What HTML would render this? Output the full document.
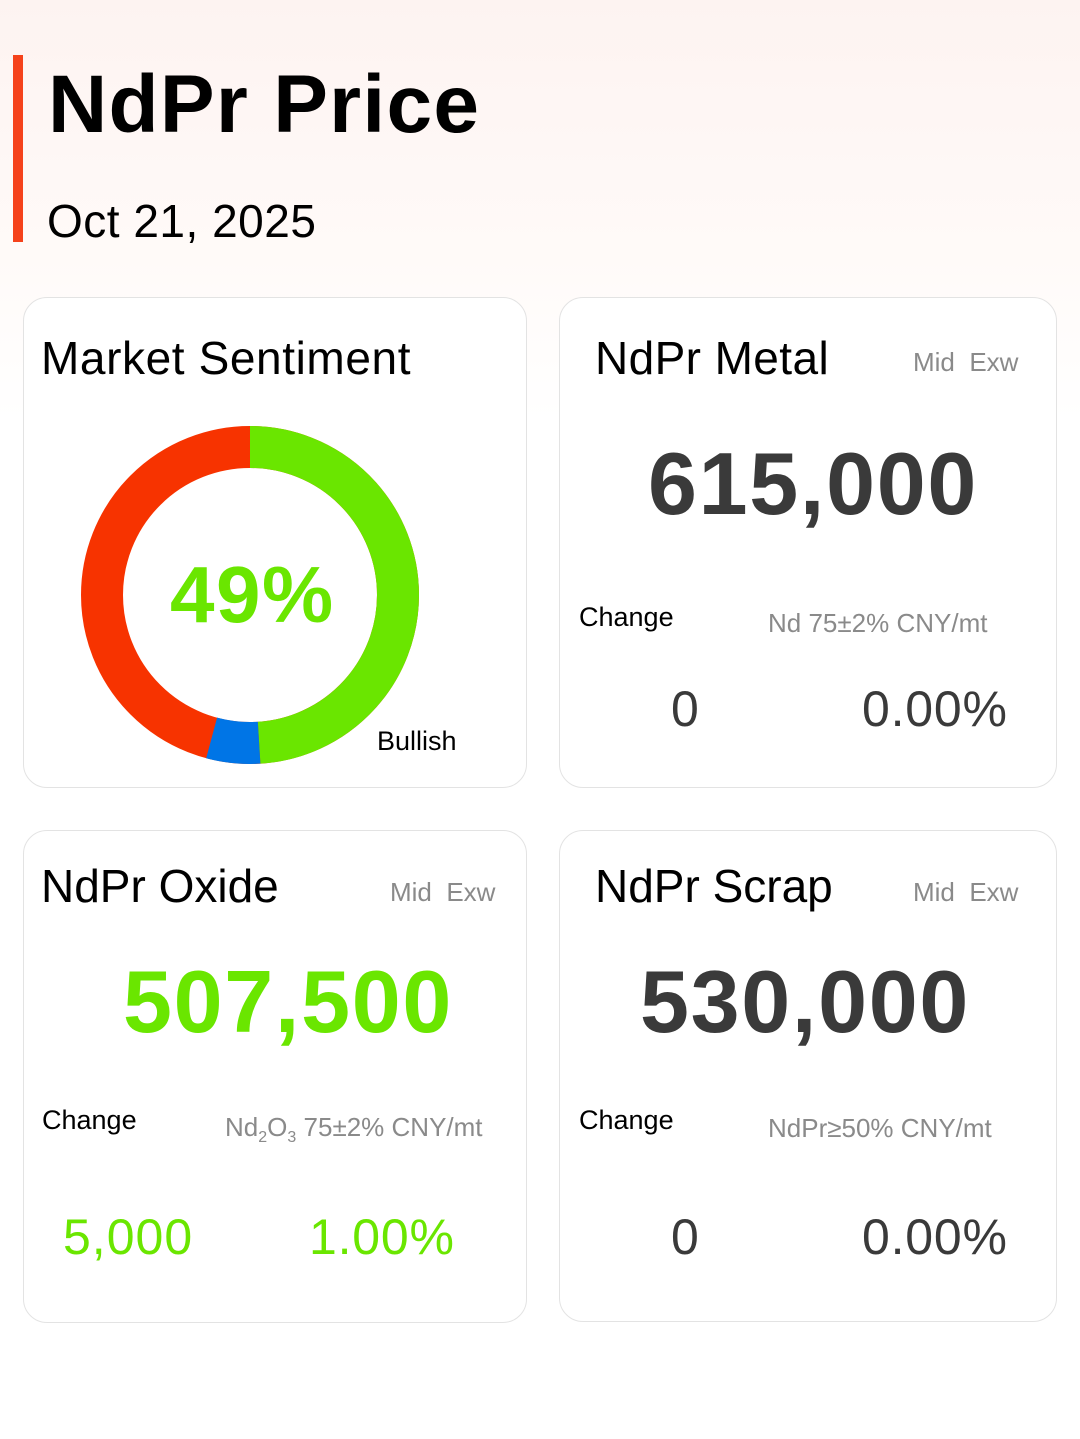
<!DOCTYPE html>
<html><head><meta charset="utf-8"><style>
*{margin:0;padding:0;box-sizing:border-box}
body{width:1080px;height:1439px;background:#fff;font-family:"Liberation Sans",Arial,sans-serif;position:relative;overflow:hidden}
.bg{position:absolute;left:0;top:0;width:1080px;height:420px;background:linear-gradient(180deg,#fdf3f1 0%,#fffaf8 60%,#fff 100%)}
.bar{position:absolute;left:13px;top:55px;width:10px;height:187px;background:#f5421b}
.t{position:absolute;white-space:nowrap;line-height:1}
.card{position:absolute;background:#fff;border:1.5px solid #e3e3e3;border-radius:24px}
.g{color:#6ae600}.d{color:#3a3a3a}.gr{color:#8a8a8a}
.big{letter-spacing:1.7px}
</style></head><body>
<div class="bg"></div>
<div class="bar"></div>
<div class="t" style="left:48px;top:64px;font-size:82px;font-weight:bold;color:#000;letter-spacing:1.3px">NdPr Price</div>
<div class="t" style="left:47px;top:198px;font-size:46px;color:#000;letter-spacing:0.5px">Oct 21, 2025</div>

<div class="card" style="left:23px;top:297px;width:504px;height:491px"></div>
<div class="card" style="left:559px;top:297px;width:498px;height:491px"></div>
<div class="card" style="left:23px;top:830px;width:504px;height:493px"></div>
<div class="card" style="left:559px;top:830px;width:498px;height:492px"></div>

<div class="t" style="left:41px;top:335px;font-size:46px;color:#000;letter-spacing:0.6px">Market Sentiment</div>
<svg style="position:absolute;left:0;top:0" width="1080" height="1439">
<g transform="rotate(-90 250 595)">
<circle cx="250" cy="595" r="148" fill="none" stroke="#f73300" stroke-width="42"/>
<circle cx="250" cy="595" r="148" fill="none" stroke="#6ae600" stroke-width="42" stroke-dasharray="455.6 1000"/>
<circle cx="250" cy="595" r="148" fill="none" stroke="#0075e6" stroke-width="42" stroke-dasharray="0 455.6 48 1000"/>
</g>
</svg>
<div class="t g" style="left:170px;top:555px;font-size:80px;font-weight:bold;letter-spacing:1.5px">49%</div>
<div class="t" style="left:377px;top:728px;font-size:27px;color:#000">Bullish</div>

<div class="t" style="left:595px;top:335px;font-size:46px;color:#000;letter-spacing:0.4px">NdPr Metal</div>
<div class="t gr" style="left:913px;top:349px;font-size:26px">Mid&nbsp; Exw</div>
<div class="t d big" style="left:648px;top:440px;font-size:88px;font-weight:bold">615,000</div>
<div class="t" style="left:579px;top:604px;font-size:27px;color:#000">Change</div>
<div class="t gr" style="left:768px;top:610px;font-size:26px">Nd 75±2% CNY/mt</div>
<div class="t d" style="left:671px;top:684px;font-size:50px">0</div>
<div class="t d" style="left:862px;top:684px;font-size:50px;letter-spacing:0.8px">0.00%</div>

<div class="t" style="left:41px;top:863px;font-size:46px;color:#000">NdPr Oxide</div>
<div class="t gr" style="left:390px;top:879px;font-size:26px">Mid&nbsp; Exw</div>
<div class="t g big" style="left:123px;top:958px;font-size:88px;font-weight:bold">507,500</div>
<div class="t" style="left:42px;top:1107px;font-size:27px;color:#000">Change</div>
<div class="t gr" style="left:225px;top:1114px;font-size:26px">Nd<sub style="font-size:16px">2</sub>O<sub style="font-size:16px">3</sub> 75±2% CNY/mt</div>
<div class="t g" style="left:63px;top:1212px;font-size:50px;letter-spacing:1px">5,000</div>
<div class="t g" style="left:309px;top:1212px;font-size:50px;letter-spacing:0.8px">1.00%</div>

<div class="t" style="left:595px;top:863px;font-size:46px;color:#000">NdPr Scrap</div>
<div class="t gr" style="left:913px;top:879px;font-size:26px">Mid&nbsp; Exw</div>
<div class="t d big" style="left:640px;top:958px;font-size:88px;font-weight:bold">530,000</div>
<div class="t" style="left:579px;top:1107px;font-size:27px;color:#000">Change</div>
<div class="t gr" style="left:768px;top:1115px;font-size:26px">NdPr≥50% CNY/mt</div>
<div class="t d" style="left:671px;top:1212px;font-size:50px">0</div>
<div class="t d" style="left:862px;top:1212px;font-size:50px;letter-spacing:0.8px">0.00%</div>
</body></html>
